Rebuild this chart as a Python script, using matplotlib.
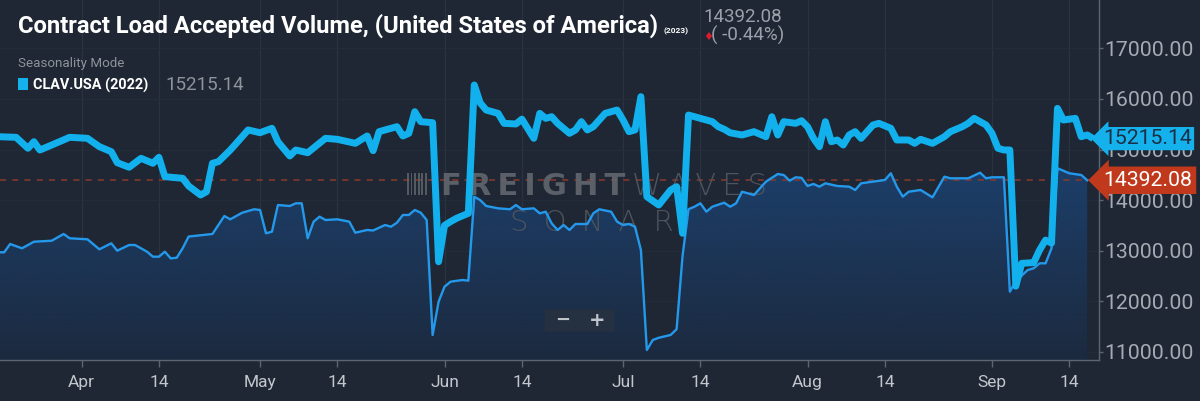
import numpy as np
import pandas as pd
import matplotlib
matplotlib.use('Agg')
from matplotlib import pyplot as plt
import matplotlib.dates as mdates
from matplotlib.colors import LinearSegmentedColormap
from matplotlib.patches import FancyBboxPatch, Rectangle
from matplotlib.transforms import blended_transform_factory

# CLAV.USA 2022 (thick line, seasonality mode -> plotted on the 2023 calendar)
dates_2022 = [
    "2023-03-18", "2023-03-21", "2023-03-23", "2023-03-24", "2023-03-25", "2023-03-27",
    "2023-03-30", "2023-04-02", "2023-04-04", "2023-04-06", "2023-04-07", "2023-04-09",
    "2023-04-11", "2023-04-13", "2023-04-14", "2023-04-15", "2023-04-18", "2023-04-19",
    "2023-04-21", "2023-04-22", "2023-04-23", "2023-04-24", "2023-04-26", "2023-04-29",
    "2023-05-01", "2023-05-03", "2023-05-04", "2023-05-06", "2023-05-07", "2023-05-09",
    "2023-05-12", "2023-05-14", "2023-05-17", "2023-05-19", "2023-05-20", "2023-05-21",
    "2023-05-22", "2023-05-24", "2023-05-25", "2023-05-26", "2023-05-27", "2023-05-28",
    "2023-05-30", "2023-05-31", "2023-06-01", "2023-06-02", "2023-06-03", "2023-06-04",
    "2023-06-05", "2023-06-06", "2023-06-07", "2023-06-08", "2023-06-09", "2023-06-10",
    "2023-06-11", "2023-06-13", "2023-06-14", "2023-06-16", "2023-06-17", "2023-06-18",
    "2023-06-19", "2023-06-20", "2023-06-22", "2023-06-23", "2023-06-24", "2023-06-25",
    "2023-06-26", "2023-06-28", "2023-06-30", "2023-07-01", "2023-07-02", "2023-07-03",
    "2023-07-04", "2023-07-05", "2023-07-07", "2023-07-09", "2023-07-10", "2023-07-11",
    "2023-07-12", "2023-07-13", "2023-07-16", "2023-07-17", "2023-07-18", "2023-07-19",
    "2023-07-21", "2023-07-23", "2023-07-25", "2023-07-26", "2023-07-27", "2023-07-28",
    "2023-07-30", "2023-07-31", "2023-08-01", "2023-08-02", "2023-08-03", "2023-08-04",
    "2023-08-05", "2023-08-06", "2023-08-07", "2023-08-08", "2023-08-09", "2023-08-10",
    "2023-08-12", "2023-08-13", "2023-08-15", "2023-08-16", "2023-08-18", "2023-08-19",
    "2023-08-20", "2023-08-22", "2023-08-24", "2023-08-25", "2023-08-27", "2023-08-28",
    "2023-08-29", "2023-08-31", "2023-09-01", "2023-09-02", "2023-09-03", "2023-09-04",
    "2023-09-05", "2023-09-06", "2023-09-08", "2023-09-09", "2023-09-10", "2023-09-11",
    "2023-09-12", "2023-09-13", "2023-09-15", "2023-09-16", "2023-09-17", "2023-09-18",
]
vals_2022 = [
    15253, 15241, 15024, 15154, 14990, 15089,
    15241, 15221, 15056, 14957, 14740, 14649,
    14826, 14728, 14846, 14463, 14431, 14279,
    14101, 14166, 14728, 14759, 14990, 15386,
    15332, 15419, 15154, 14872, 14990, 14937,
    15221, 15201, 15122, 15267, 14977, 15352,
    15386, 15451, 15267, 15320, 15747, 15550,
    15530, 12783, 13500, 13574, 13640, 13690,
    13739, 16275, 15920, 15780, 15747, 15714,
    15517, 15504, 15600, 15221, 15714, 15616,
    15648, 15517, 15320, 15386, 15550, 15386,
    15451, 15714, 15780, 15583, 15352, 15386,
    16044, 14068, 13903, 14200, 14266, 13344,
    15681, 15648, 15550, 15451, 15400, 15330,
    15287, 15352, 15253, 15648, 15287, 15550,
    15517, 15569, 15451, 15221, 15056, 15550,
    15154, 15188, 15089, 15287, 15352, 15221,
    15484, 15517, 15419, 15188, 15188, 15122,
    15201, 15122, 15253, 15352, 15451, 15517,
    15616, 15484, 15320, 15024, 14990, 14990,
    12300, 12751, 12765, 13014, 13211, 13150,
    15813, 15583, 15616, 15253, 15287, 15215.14,
]

# CLAV.USA 2023 (thin line with area)
dates_2023 = [
    "2023-03-18", "2023-03-19", "2023-03-20", "2023-03-22", "2023-03-24", "2023-03-27",
    "2023-03-29", "2023-03-30", "2023-04-02", "2023-04-04", "2023-04-06", "2023-04-07",
    "2023-04-09", "2023-04-10", "2023-04-12", "2023-04-13", "2023-04-14", "2023-04-15",
    "2023-04-16", "2023-04-17", "2023-04-18", "2023-04-19", "2023-04-23", "2023-04-25",
    "2023-04-26", "2023-04-28", "2023-04-30", "2023-05-01", "2023-05-02", "2023-05-03",
    "2023-05-04", "2023-05-06", "2023-05-07", "2023-05-08", "2023-05-09", "2023-05-10",
    "2023-05-11", "2023-05-12", "2023-05-14", "2023-05-16", "2023-05-17", "2023-05-19",
    "2023-05-20", "2023-05-22", "2023-05-23", "2023-05-24", "2023-05-25", "2023-05-26",
    "2023-05-27", "2023-05-28", "2023-05-29", "2023-05-30", "2023-05-31", "2023-06-01",
    "2023-06-02", "2023-06-04", "2023-06-05", "2023-06-06", "2023-06-07", "2023-06-08",
    "2023-06-10", "2023-06-12", "2023-06-13", "2023-06-14", "2023-06-16", "2023-06-17",
    "2023-06-18", "2023-06-19", "2023-06-20", "2023-06-21", "2023-06-22", "2023-06-23",
    "2023-06-25", "2023-06-26", "2023-06-27", "2023-06-29", "2023-06-30", "2023-07-01",
    "2023-07-02", "2023-07-03", "2023-07-04", "2023-07-05", "2023-07-06", "2023-07-07",
    "2023-07-09", "2023-07-10", "2023-07-11", "2023-07-12", "2023-07-13", "2023-07-14",
    "2023-07-15", "2023-07-16", "2023-07-18", "2023-07-19", "2023-07-20", "2023-07-21",
    "2023-07-23", "2023-07-25", "2023-07-27", "2023-07-28", "2023-07-29", "2023-07-30",
    "2023-07-31", "2023-08-01", "2023-08-02", "2023-08-03", "2023-08-04", "2023-08-06",
    "2023-08-08", "2023-08-09", "2023-08-10", "2023-08-12", "2023-08-14", "2023-08-15",
    "2023-08-16", "2023-08-17", "2023-08-18", "2023-08-20", "2023-08-22", "2023-08-24",
    "2023-08-25", "2023-08-28", "2023-08-30", "2023-08-31", "2023-09-01", "2023-09-03",
    "2023-09-04", "2023-09-05", "2023-09-07", "2023-09-08", "2023-09-09", "2023-09-10",
    "2023-09-11", "2023-09-12", "2023-09-14", "2023-09-16", "2023-09-17",
]
vals_2023 = [
    12969, 12969, 13133, 13048, 13178, 13198,
    13331, 13246, 13226, 13028, 13147, 13001,
    13113, 13113, 12981, 12882, 12882, 12981,
    12848, 12862, 13050, 13280, 13331, 13686,
    13621, 13751, 13819, 13805, 13344, 13376,
    13903, 13884, 13937, 13937, 13246, 13574,
    13673, 13607, 13621, 13574, 13356, 13410,
    13400, 13508, 13475, 13554, 13706, 13706,
    13805, 13751, 13607, 11335, 11993, 12289,
    12388, 12422, 12408, 14068, 14000, 13884,
    13838, 13819, 13903, 13819, 13838, 13739,
    13771, 13541, 13410, 13508, 13410, 13528,
    13528, 13739, 13819, 13771, 13574, 13508,
    13528, 13475, 13014, 11039, 11237, 11280,
    11336, 11450, 12900, 13820, 13870, 13937,
    13771, 13870, 13949, 13870, 13937, 14166,
    14101, 14364, 14516, 14496, 14384, 14451,
    14440, 14279, 14319, 14266, 14332, 14279,
    14266, 14200, 14332, 14364, 14398, 14530,
    14266, 14068, 14166, 14200, 14055, 14463,
    14431, 14431, 14542, 14431, 14451, 14451,
    12191, 12400, 12619, 12653, 12751, 12751,
    13048, 14629, 14530, 14496, 14392.08,
]

last_2022 = 15215.14
last_2023 = 14392.08
change_pct = -0.44
y_ticks = [11000, 12000, 13000, 14000, 15000, 16000, 17000]
x_ticks = ["2023-04-01", "2023-04-14", "2023-05-01", "2023-05-14", "2023-06-01", "2023-06-14",
           "2023-07-01", "2023-07-14", "2023-08-01", "2023-08-14", "2023-09-01", "2023-09-14"]
x_labels = ["Apr", "14", "May", "14", "Jun", "14", "Jul", "14", "Aug", "14", "Sep", "14"]

BG = '#1e2733'
W, H = 1200, 401


def fpos(x, y):
    return x / W, 1 - y / H


fig = plt.figure(figsize=(12, 4.01), dpi=100, facecolor=BG)
ax = fig.add_axes([0, (H - 360) / H, 1099 / W, 360 / H], facecolor=BG)

x22 = mdates.date2num(pd.to_datetime(dates_2022))
x23 = mdates.date2num(pd.to_datetime(dates_2023))
apr1 = mdates.date2num(pd.Timestamp("2023-04-01"))
xmin, xmax = apr1 - 13.7, apr1 + 170.98
ymin, ymax = 10841, 17954

# gradient area under the 2023 line
poly = ax.fill_between(x23, vals_2023, ymin, facecolor='none', edgecolor='none')
cmap = LinearSegmentedColormap.from_list('area', ['#1c2a3f', '#1c3f6a'])
grad = np.linspace(0, 1, 256).reshape(-1, 1)
img = ax.imshow(grad, extent=[xmin, xmax, ymin, 14700], origin='lower', aspect='auto',
                cmap=cmap, zorder=1)
img.set_clip_path(poly.get_paths()[0], transform=ax.transData)

ax.plot(x23, vals_2023, color='#2499ec', lw=1.7, zorder=3, solid_joinstyle='round')
ax.plot(x22, vals_2022, color='#12b1ee', lw=5, zorder=4, solid_joinstyle='round',
        solid_capstyle='butt')
ax.axhline(last_2023, color='#8a3a2c', lw=1.1, ls=(0, (4, 4)), zorder=2)

ax.set_xlim(xmin, xmax)
ax.set_ylim(ymin, ymax)

ax.set_xticks(mdates.date2num(pd.to_datetime(x_ticks)))
ax.set_xticklabels(x_labels)
ax.set_yticks(y_ticks)
ax.set_yticklabels(["%.2f" % v for v in y_ticks])
ax.yaxis.tick_right()
ax.tick_params(axis='x', colors='#5d6571', length=5, width=1, pad=6,
               labelcolor='#c3c7cd', labelsize=12.5)
ax.tick_params(axis='y', colors='#5d6571', length=3, width=1, pad=0.5,
               labelcolor='#a6abb3', labelsize=15.3)
for lab in ax.get_xticklabels() + ax.get_yticklabels():
    lab.set_family('Roboto')
ax.grid(axis='x', color='#2a3441', lw=0.9)
ax.grid(axis='y', color='#232d39', lw=0.8)
ax.set_axisbelow(True)
for side in ['top', 'left']:
    ax.spines[side].set_visible(False)
for side in ['bottom', 'right']:
    ax.spines[side].set_color('#5d6571')
    ax.spines[side].set_linewidth(1)

# last value callouts on the right axis
tr = blended_transform_factory(ax.transAxes, ax.transData)
ax.text(1192 / 1099, last_2022, "%.2f" % last_2022, transform=tr, va='center', ha='right',
        fontsize=15.3, family='Roboto', color='#1b3044', zorder=6, clip_on=False,
        bbox=dict(boxstyle='larrow,pad=0.1', fc='#14b1ec', ec='none'))
ax.text(1192 / 1099, last_2023, "%.2f" % last_2023, transform=tr, va='center', ha='right',
        fontsize=15.3, family='Roboto', color='white', zorder=6, clip_on=False,
        bbox=dict(boxstyle='larrow,pad=0.2', fc='#c0391c', ec='none'))

# watermark, drawn behind the lines
WM = '#62676e'
for i in range(6):
    ax.add_patch(Rectangle(fpos(407 + i * 3.6, 195), 1.8 / W, 22 / H, transform=fig.transFigure,
                           fc=WM, ec='none', alpha=0.8, zorder=2, clip_on=False))
ax.text(*fpos(441, 195), "F\u2009R\u2009E\u2009I\u2009G\u2009H\u2009T", transform=fig.transFigure,
        fontsize=22, fontweight='bold', family='DejaVu Sans', color=WM, alpha=0.9,
        va='baseline', zorder=2)
ax.text(*fpos(632, 195), "W\u2009A\u2009V\u2009E\u2009S", transform=fig.transFigure,
        fontsize=22, fontweight='light', family='DejaVu Sans', color='#4d545d',
        va='baseline', zorder=2)
ax.text(*fpos(510, 231), "S\u2009 O\u2009 N\u2009 A\u2009 R", transform=fig.transFigure,
        fontsize=21, fontweight='light', family='DejaVu Sans', color='#4d545d',
        va='baseline', zorder=2)

# zoom buttons
fig.patches.append(FancyBboxPatch(fpos(547, 331), 65 / W, 21 / H, boxstyle='round,pad=0.002',
                                  transform=fig.transFigure, fc='#253040', ec='none', zorder=5))
fig.text(*fpos(563, 320), "\u2212", fontsize=13, fontweight='bold', color='#bfc4cb',
         ha='center', va='center', zorder=6)
fig.text(*fpos(597, 320), "+", fontsize=14, fontweight='bold', color='#bfc4cb',
         ha='center', va='center', zorder=6)

# header
fig.text(*fpos(18, 33), "Contract Load Accepted Volume, (United States of America)",
         fontsize=17.1, fontweight='bold', family='Roboto', color='white', va='baseline')
fig.text(*fpos(664, 33), "(2023)", fontsize=6, fontweight='bold', family='Roboto',
         color='white', va='baseline')
fig.text(*fpos(703, 22), "%.2f" % last_2023, fontsize=13.5, family='Roboto', color='#9ba1a9',
         va='baseline')
fig.text(*fpos(703, 40), "\u2666", fontsize=8, color='#e0192f', va='baseline')
fig.text(*fpos(711, 41), "( %.2f%%)" % change_pct, fontsize=13.5, family='Roboto',
         color='#9ba1a9', va='baseline')
fig.text(*fpos(18, 67), "Seasonality Mode", fontsize=9.6, family='Roboto', color='#8e949c',
         va='baseline')
fig.patches.append(FancyBboxPatch(fpos(18, 90), 10 / W, 12 / H, boxstyle='square,pad=0',
                                  transform=fig.transFigure, fc='#14b1ec', ec='none'))
fig.text(*fpos(33, 90), "CLAV.USA (2022)", fontsize=10.4, fontweight='bold', family='Roboto',
         color='white', va='baseline')
fig.text(*fpos(165, 90), "%.2f" % last_2022, fontsize=13.5, family='Roboto', color='#8e949c',
         va='baseline')

fig.savefig('out.png', dpi=100, facecolor=BG)
